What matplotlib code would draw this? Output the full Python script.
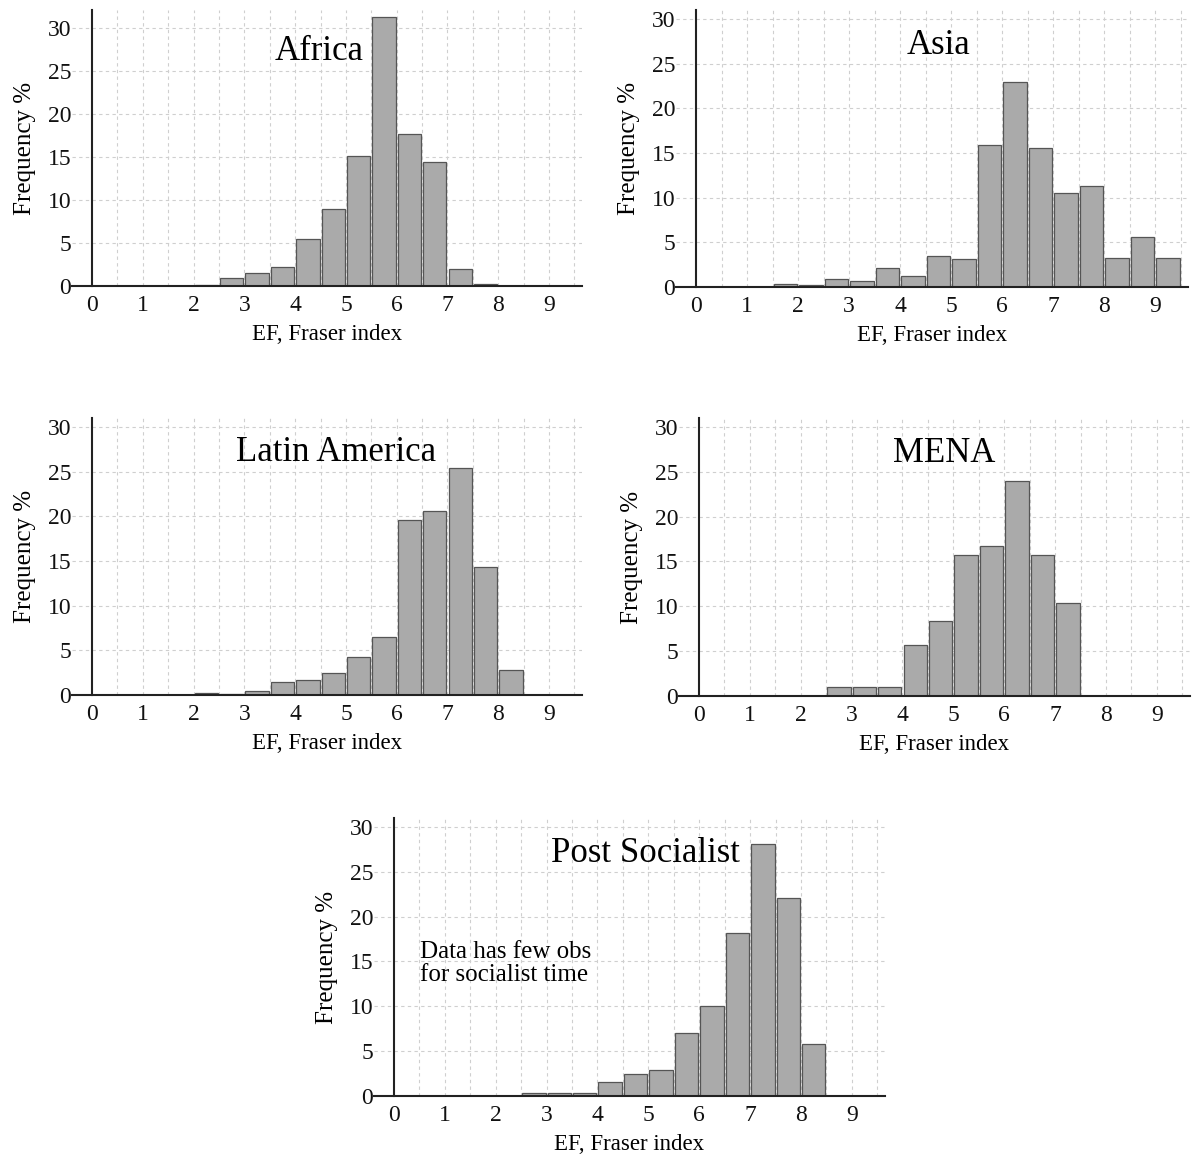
import matplotlib
matplotlib.use("Agg")
import matplotlib.pyplot as plt
import numpy as np

plt.rcParams['font.family'] = ['Liberation Serif', 'DejaVu Serif']

bin_left = [i * 0.5 for i in range(19)]
bin_width = 0.5

africa = [0, 0, 0, 0, 0.1, 0.9, 1.5, 2.2, 5.5, 8.9, 15.1, 31.3, 17.7, 14.4, 2.0, 0.25, 0, 0, 0]
asia = [0, 0, 0, 0.33, 0.19, 0.89, 0.7, 2.08, 1.19, 3.42, 3.08, 15.9, 22.9, 15.6, 10.55, 11.33, 3.23, 5.57, 3.23]
latin_america = [0, 0, 0, 0, 0.19, 0.15, 0.48, 1.41, 1.67, 2.49, 4.31, 6.46, 19.6, 20.6, 25.4, 14.3, 2.75, 0, 0]
mena = [0, 0, 0, 0, 0, 1.04, 1.04, 1.04, 5.74, 8.33, 15.67, 16.7, 24.0, 15.67, 10.4, 0, 0, 0, 0]
post_socialist = [0, 0, 0, 0, 0, 0.3, 0.3, 0.3, 1.53, 2.42, 2.94, 7.03, 10.05, 18.16, 28.1, 22.1, 5.77, 0, 0]

x_ticks = list(range(10))
y_ticks = [0, 5, 10, 15, 20, 25, 30]
x_label = "EF, Fraser index"
y_label = "Frequency %"
note = "Data has few obs\nfor socialist time"

panels = [
    ("Africa", africa, [0.0602, 0.7522, 0.4281, 0.2392], 32.1, (4.47, 27.3)),
    ("Asia", asia, [0.5668, 0.7513, 0.4300, 0.2400], 31.0, (4.75, 27.0)),
    ("Latin America", latin_america, [0.0602, 0.3977, 0.4281, 0.2400], 31.0, (4.8, 27.1)),
    ("MENA", mena, [0.5693, 0.3969, 0.4290, 0.2409], 31.0, (4.81, 27.0)),
    ("Post Socialist", post_socialist, [0.3134, 0.0503, 0.4290, 0.2409], 31.0, (4.94, 27.0)),
]

fig = plt.figure(figsize=(11.92, 11.54), dpi=100)

for name, vals, pos, ytop, tpos in panels:
    ax = fig.add_axes(pos)
    lefts = [l for l, v in zip(bin_left, vals) if v > 0]
    heights = [v for v in vals if v > 0]
    ax.bar([l + 0.02 for l in lefts], heights, width=bin_width - 0.04, align='edge',
           color='#aaaaaa', edgecolor='#555555', linewidth=0.9, zorder=3)
    ax.set_xlim(-0.4, 9.65)
    ax.set_ylim(0, ytop)
    # grid
    for gx in np.arange(0.5, 9.51, 0.5):
        ax.axvline(gx, color='#cfcfcf', linestyle=(0, (3, 3)), linewidth=0.8, zorder=1)
    for gy in y_ticks[1:]:
        ax.axhline(gy, color='#cfcfcf', linestyle=(0, (3, 3)), linewidth=0.8, zorder=1)
    ax.spines['top'].set_visible(False)
    ax.spines['right'].set_visible(False)
    ax.spines['left'].set_position(('data', 0))
    for s in ('left', 'bottom'):
        ax.spines[s].set_linewidth(1.5)
        ax.spines[s].set_color('#222222')
        ax.spines[s].set_zorder(4)
    ax.set_xticks(x_ticks)
    ax.set_yticks(y_ticks)
    ax.tick_params(length=0, labelsize=17, colors='#111111')
    ax.tick_params(axis='x', pad=6.5)
    ax.tick_params(axis='y', pad=15)
    ax.set_xlabel(x_label, fontsize=16.5, labelpad=6)
    ax.set_ylabel(y_label, fontsize=18, labelpad=8)
    ax.text(tpos[0], tpos[1], name, fontsize=25, ha='center', va='center', zorder=5)
    if name == "Post Socialist":
        ax.text(0.52, 14.8, note, fontsize=18, ha='left', va='center', linespacing=1.08, zorder=5)

fig.savefig("out.png", dpi=100)
